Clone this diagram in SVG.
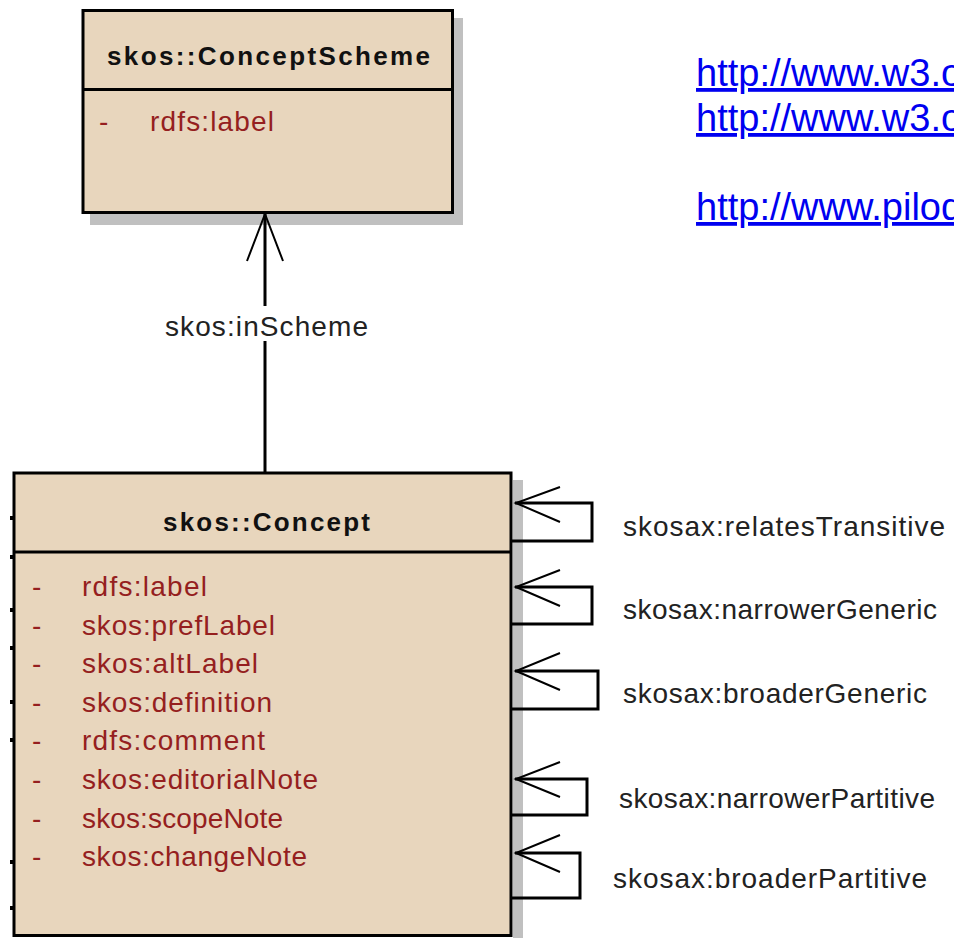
<svg xmlns="http://www.w3.org/2000/svg" width="954" height="938" viewBox="0 0 954 938">
<style>
.box{fill:#e8d6bd;stroke:#000;stroke-width:3}
.shadow{fill:#c0c0c0}
.div{stroke:#000;stroke-width:3}
.title{font-family:"Liberation Sans",Arial,sans-serif;font-weight:bold;font-size:26px;fill:#111}
.attr{font-family:"Liberation Sans",Arial,sans-serif;font-size:28px;fill:#951f1f}
.lbl{font-family:"Liberation Sans",Arial,sans-serif;font-size:28px;fill:#222}
.url{font-family:"Liberation Sans",Arial,sans-serif;font-size:38px;fill:#0000f0;text-decoration:underline}
.line{fill:none;stroke:#000;stroke-width:3}
.head{fill:none;stroke:#000;stroke-width:2}
.nub{fill:#000}
</style>
<rect width="954" height="938" fill="#fff"/>
<g id="urls">
<text class="url" x="696" y="86">http://www.w3.o</text>
<text class="url" x="696" y="131">http://www.w3.o</text>
<text class="url" x="696" y="220">http://www.pilod</text>
</g>
<g id="conceptScheme">
<rect class="shadow" x="90" y="18" width="373" height="207"/>
<rect class="box" x="83" y="10.5" width="369.5" height="202"/>
<line class="div" x1="83" y1="89.5" x2="452.5" y2="89.5"/>
<text class="title" x="107" y="65" textLength="323" lengthAdjust="spacing">skos::ConceptScheme</text>
<text class="attr" x="99" y="131">-</text>
<text class="attr" x="150" y="131" textLength="124" lengthAdjust="spacing">rdfs:label</text>
</g>
<g id="concept">
<rect class="shadow" x="513" y="480" width="10" height="458"/>
<rect class="box" x="14" y="473" width="497" height="462.5"/>
<line class="div" x1="14" y1="552" x2="511" y2="552"/>
<text class="title" x="163" y="531" textLength="207" lengthAdjust="spacing">skos::Concept</text>
<g>
<text class="attr" x="32" y="596">-</text>
<text class="attr" x="82" y="596" textLength="125" lengthAdjust="spacing">rdfs:label</text>
<text class="attr" x="32" y="634.6">-</text>
<text class="attr" x="82" y="634.6" textLength="193" lengthAdjust="spacing">skos:prefLabel</text>
<text class="attr" x="32" y="673.2">-</text>
<text class="attr" x="82" y="673.2" textLength="176" lengthAdjust="spacing">skos:altLabel</text>
<text class="attr" x="32" y="711.8">-</text>
<text class="attr" x="82" y="711.8" textLength="190" lengthAdjust="spacing">skos:definition</text>
<text class="attr" x="32" y="750.4">-</text>
<text class="attr" x="82" y="750.4" textLength="183" lengthAdjust="spacing">rdfs:comment</text>
<text class="attr" x="32" y="789">-</text>
<text class="attr" x="82" y="789" textLength="236" lengthAdjust="spacing">skos:editorialNote</text>
<text class="attr" x="32" y="827.6">-</text>
<text class="attr" x="82" y="827.6" textLength="201" lengthAdjust="spacing">skos:scopeNote</text>
<text class="attr" x="32" y="866">-</text>
<text class="attr" x="82" y="866" textLength="225" lengthAdjust="spacing">skos:changeNote</text>
</g>
<g>
<rect class="nub" x="10" y="516" width="3" height="4"/>
<rect class="nub" x="10" y="555" width="3" height="4"/>
<rect class="nub" x="10" y="608" width="3" height="4"/>
<rect class="nub" x="10" y="646" width="3" height="4"/>
<rect class="nub" x="10" y="700" width="3" height="4"/>
<rect class="nub" x="10" y="738" width="3" height="4"/>
<rect class="nub" x="10" y="860" width="3" height="4"/>
<rect class="nub" x="10" y="906" width="3" height="4"/>
</g>
</g>
<g id="connectors">
<path class="line" d="M265,214 V306 M265,341 V473"/>
<path class="head" d="M247,261 L265,214 L283,261"/>
<text class="lbl" x="165" y="336" textLength="203" lengthAdjust="spacing">skos:inScheme</text>
<path class="line" d="M512,541 H592 V503 H515"/>
<path class="head" d="M560,487 L516,503 L560,522"/>
<text class="lbl" x="623" y="536" textLength="322" lengthAdjust="spacing">skosax:relatesTransitive</text>
<path class="line" d="M512,624 H592 V587 H515"/>
<path class="head" d="M560,570 L516,587 L560,606"/>
<text class="lbl" x="623" y="619" textLength="314" lengthAdjust="spacing">skosax:narrowerGeneric</text>
<path class="line" d="M512,709 H598 V671 H515"/>
<path class="head" d="M560,653 L516,671 L560,690"/>
<text class="lbl" x="623" y="703" textLength="304" lengthAdjust="spacing">skosax:broaderGeneric</text>
<path class="line" d="M512,815 H587 V779 H515"/>
<path class="head" d="M560,762 L516,779 L560,797"/>
<text class="lbl" x="619" y="808" textLength="316" lengthAdjust="spacing">skosax:narrowerPartitive</text>
<path class="line" d="M512,898 H580 V853 H515"/>
<path class="head" d="M560,835 L516,853 L560,872"/>
<text class="lbl" x="613" y="888" textLength="314" lengthAdjust="spacing">skosax:broaderPartitive</text>
</g>
</svg>
